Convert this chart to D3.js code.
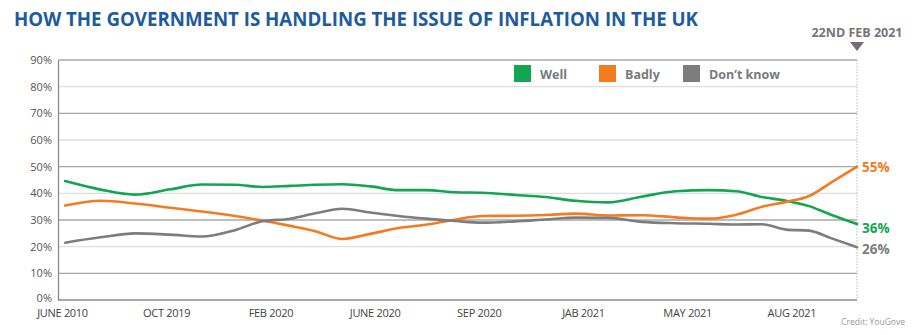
<!DOCTYPE html>
<html><head><meta charset="utf-8">
<script src="https://cdn.jsdelivr.net/npm/d3@7"></script>
<style>html,body{margin:0;padding:0;background:#fff;}svg{display:block;}</style>
</head><body>
<script>
const title = "HOW THE GOVERNMENT IS HANDLING THE ISSUE OF INFLATION IN THE UK";
const tickLabels = ["JUNE 2010","OCT 2019","FEB 2020","JUNE 2020","SEP 2020","JAB 2021","MAY 2021","AUG 2021"];
const yTicks = [0,10,20,30,40,50,60,70,80,90];
// position along the x axis, in units of tick-label spacing
const t = [0.03,0.37,0.70,1.04,1.34,1.66,1.92,2.19,2.43,2.69,2.96,3.23,3.49,3.78,4.03,4.35,4.64,4.93,5.24,5.57,5.89,6.21,6.47,6.72,6.95,7.17,7.38,7.63];
const well  = [44.6,41.4,39.5,41.5,43.3,43.2,42.4,42.8,43.2,43.4,42.6,41.2,41.2,40.4,40.2,39.4,38.6,37.2,36.6,38.8,40.8,41.2,40.8,38.6,37.2,35.2,32.0,28.5];
const badly = [35.4,37.2,36.2,34.6,33.2,31.5,29.8,27.8,25.8,22.9,24.8,27.0,28.2,30.2,31.5,31.6,31.9,32.4,31.7,31.8,31.0,30.5,32.0,35.0,36.8,39.0,44.0,50.0];
const dontKnow = [21.5,23.5,25.0,24.5,23.8,26.2,29.5,30.5,32.5,34.2,32.8,31.5,30.5,29.6,29.0,29.5,30.2,30.9,30.8,29.3,28.8,28.6,28.3,28.4,26.4,26.0,23.2,19.8];
const seriesNames = ["Well","Badly","Don\u2019t know"];
const seriesColors = ["#12a650","#f47b20","#7d7d80"];
const endLabels = ["36%","55%","26%"];
const markerLabel = "22ND FEB 2021";
const credit = "Credit: YouGove";

const W = 923, H = 335;
const svg = d3.select("body").append("svg").attr("width", W).attr("height", H);
const x0 = 58, x1 = 857, yTop = 60, yBot = 300;
const x = d3.scaleLinear().domain([0, 7.63]).range([62, 857]);
const y = d3.scaleLinear().domain([0, 90]).range([yBot, yTop]);

svg.append("text").attr("x", 14).attr("y", 26).text(title)
  .attr("font-family", "'Open Sans', sans-serif").attr("font-weight", 700)
  .attr("font-size", 19.5).attr("fill", "#1d5a9e")
  .attr("textLength", 684).attr("lengthAdjust", "spacingAndGlyphs");

// gridlines
svg.append("g").selectAll("line").data(yTicks.filter(v => v > 0)).join("line")
  .attr("x1", x0).attr("x2", x1).attr("y1", d => y(d)).attr("y2", d => y(d))
  .attr("stroke", d => (d / 10) % 2 === 1 ? "#a8a8a8" : "#dedede").attr("stroke-width", 1.3);

// y axis
const yAxis = d3.axisLeft(y).tickValues(yTicks).tickFormat(d => d + "%").tickSize(0).tickPadding(6);
const gy = svg.append("g").attr("transform", `translate(${x0},0)`).call(yAxis);
gy.select(".domain").attr("stroke", "#8a8a8a").attr("stroke-width", 1.3);
gy.selectAll("text").attr("font-family", "'Open Sans', sans-serif").attr("font-size", 11).attr("fill", "#555");
gy.selectAll(".tick").filter(d => d === 0).select("text").attr("dy", "0.15em");

// x axis
const xAxis = d3.axisBottom(x).tickValues(d3.range(tickLabels.length)).tickFormat(i => tickLabels[i]).tickSize(0).tickPadding(9);
const gx = svg.append("g").attr("transform", `translate(0,${yBot})`).call(xAxis);
gx.select(".domain").remove();
gx.selectAll("text").attr("font-family", "'Open Sans', sans-serif").attr("font-size", 11).attr("fill", "#444").attr("letter-spacing", "-0.3");
svg.append("line").attr("x1", x0).attr("x2", x1).attr("y1", yBot).attr("y2", yBot).attr("stroke", "#8a8a8a").attr("stroke-width", 1.3);

// dotted marker line
svg.append("line").attr("x1", x1).attr("x2", x1).attr("y1", yTop).attr("y2", yBot)
  .attr("stroke", "#bbb").attr("stroke-width", 1).attr("stroke-dasharray", "1.5,1.5");
svg.append("path").attr("d", `M${x1-7},42 L${x1+7},42 L${x1},51 Z`).attr("fill", "#6f6f72");
svg.append("text").attr("x", x1).attr("y", 37).attr("text-anchor", "middle").text(markerLabel)
  .attr("font-family", "'Open Sans', sans-serif").attr("font-weight", 700).attr("font-size", 12.5).attr("fill", "#757578");

// lines
const all = [well, badly, dontKnow];
const line = d3.line().x((d, i) => x(t[i])).y(d => y(d)).curve(d3.curveMonotoneX);
svg.append("g").selectAll("path").data(all).join("path")
  .attr("d", d => line(d)).attr("fill", "none")
  .attr("stroke", (d, i) => seriesColors[i]).attr("stroke-width", 2.6).attr("stroke-linecap", "round");

// end labels
const endY = [228, 167, 249];
svg.append("g").selectAll("text").data(endLabels).join("text")
  .attr("x", 862).attr("y", (d, i) => endY[i]).attr("dy", "0.36em").text(d => d)
  .attr("font-family", "'Open Sans', sans-serif").attr("font-weight", 700).attr("font-size", 13.5)
  .attr("fill", (d, i) => seriesColors[i]);

// legend
const legX = [514, 599, 683];
const lg = svg.append("g").selectAll("g").data(seriesNames).join("g")
  .attr("transform", (d, i) => `translate(${legX[i]},65)`);
lg.append("rect").attr("width", 17).attr("height", 17).attr("fill", (d, i) => seriesColors[i]);
lg.append("text").attr("x", 26).attr("y", 9).attr("dy", "0.36em").text(d => d)
  .attr("font-family", "'Open Sans', sans-serif").attr("font-weight", 700).attr("font-size", 12.5).attr("fill", "#7a7a7c");

svg.append("text").attr("x", 905).attr("y", 325).attr("text-anchor", "end").text(credit)
  .attr("font-family", "'Open Sans', sans-serif").attr("font-size", 8.5).attr("fill", "#999");
</script>
</body></html>
